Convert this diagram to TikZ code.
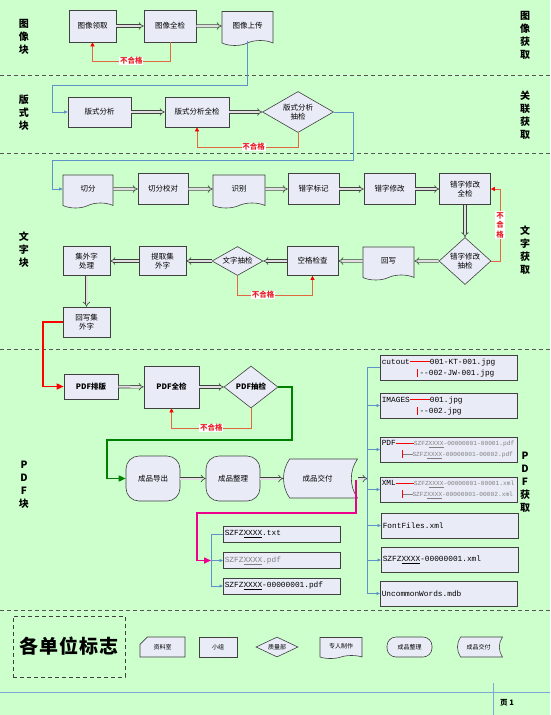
\documentclass[tikz,border=0pt]{standalone}
\usepackage{fontspec}
\setmainfont{Noto Sans CJK SC}
\setmonofont{Liberation Mono}
\usetikzlibrary{arrows.meta, shapes.geometric, shapes.misc, shapes.symbols, positioning}
\definecolor{colorBack}{HTML}{CCFFCC}
\definecolor{colorBox}{HTML}{E9ECF7}
\definecolor{colorEdge}{HTML}{404040}
\definecolor{colorLink}{HTML}{5E92C8}
\definecolor{colorFail}{HTML}{E0683E}
\definecolor{colorFailText}{HTML}{E82028}
\definecolor{colorLane}{HTML}{555555}
\newcommand{\fileX}{\underline{XXXX}}
\newcommand{\redrule}[1]{\textcolor{red}{\rule[2.4pt]{#1}{0.5pt}}}
\newcommand{\redbar}{\textcolor{red}{\rule[-1.5pt]{0.7pt}{8pt}}}
\newcommand{\smallgray}{\color{gray}\fontsize{6.2}{8}\selectfont}
\tikzset{
  box/.style={draw=colorEdge, fill=colorBox, semithick, align=center, inner sep=1pt, font=\fontsize{7.5}{9.5}\selectfont},
  doc/.style={box, tape, tape bend top=none, tape bend height=5pt},
  check/.style={box, diamond, aspect=1.5, inner sep=-2pt},
  term/.style={box, rounded corners=13pt},
  stored/.style={box, rounded rectangle, rounded rectangle arc length=70, rounded rectangle east arc=concave},
  card/.style={box, chamfered rectangle, chamfered rectangle corners=north west, chamfered rectangle xsep=6pt},
  filebox/.style={box, anchor=west, align=left, text width=#1, inner xsep=1.5pt, font=\ttfamily\fontsize{7.8}{11}\selectfont},
  lane/.style={font=\bfseries\fontsize{10}{13}\selectfont, align=center},
  small/.style={font=\fontsize{6}{7}\selectfont},
  bold/.style={font=\bfseries\fontsize{7.5}{9}\selectfont},
}
\begin{document}
\begin{tikzpicture}[x=1pt, y=-1pt,
  flow/.style={draw=colorEdge, double=black!12, double distance=2pt, line width=.6pt, -{Implies}},
  link/.style={draw=colorLink, semithick, -{Triangle[length=3.5pt, width=3pt]}},
  fail/.style={draw=colorFail, semithick, -{Triangle[length=4pt, width=4pt, color=red]}},
  failtag/.style={fill=white, text=colorFailText, align=center, font=\bfseries\fontsize{7.5}{9.5}\selectfont, inner sep=.8pt},
  mainline/.style={line width=1.5pt, -{Triangle[length=7pt, width=6pt]}}]
\fill[colorBack] (0,0) rectangle (550,715);
\useasboundingbox (0,0) rectangle (550,715);
\foreach \y in {75,153,349,610}
  \draw[colorLane, line width=1pt, dash pattern=on 4pt off 3pt] (0,\y) -- (550,\y);

\node[lane] (laneImg) at (24,37) {图\\像\\块};
\node[lane] (laneLay) at (24,113) {版\\式\\块};
\node[lane] (laneTxt) at (24,250) {文\\字\\块};
\node[lane] (lanePdf) at (24,485) {P\\D\\F\\块};
\node[lane] (getImg) at (525,35) {图\\像\\获\\取};
\node[lane] (getLay) at (525,115) {关\\联\\获\\取};
\node[lane] (getTxt) at (525,250) {文\\字\\获\\取};
\node[lane] (getPdf) at (525,482) {P\\D\\F\\获\\取};

\node[box, minimum width=47, minimum height=32] (grab) at (92.5,26) {图像领取};
\node[box, minimum width=52, minimum height=32] (imgfull) at (170,26) {图像全检};
\node[doc, minimum width=51, minimum height=34] (upload) at (247.5,26) {图像上传};
\draw[flow] (grab) -- (imgfull);
\draw[flow] (imgfull) -- (upload);
\draw[fail] (imgfull.south) |- (92.5,61) node[failtag, pos=.75] {不合格} -- (grab.south);

\node[box, minimum width=63, minimum height=30] (layout) at (99.5,112) {版式分析};
\node[box, minimum width=64, minimum height=30] (layoutfull) at (197,112) {版式分析全检};
\node[check, minimum width=71, minimum height=41] (layoutchk) at (298,112) {版式分析\\抽检};
\draw[link] (upload.south) -- (247.5,85) -| (52,112) -- (layout.west);
\draw[flow] (layout) -- (layoutfull);
\draw[flow] (layoutfull) -- (layoutchk);
\draw[fail] (layoutchk.south) |- (197,147) node[failtag, pos=.72] {不合格} -- (layoutfull.south);

\node[doc, minimum width=50, minimum height=33] (cut) at (88,189) {切分};
\node[box, minimum width=50, minimum height=31] (cutcheck) at (163,189) {切分校对};
\node[doc, minimum width=52, minimum height=33] (ocr) at (239,189) {识别};
\node[box, minimum width=51, minimum height=31] (mark) at (313.5,189) {错字标记};
\node[box, minimum width=51, minimum height=31] (fix) at (389.5,189) {错字修改};
\node[box, minimum width=51, minimum height=31] (fixfull) at (465,189) {错字修改\\全检};
\node[check, minimum width=52, minimum height=47] (fixchk) at (465,261) {错字修改\\抽检};
\node[doc, minimum width=51, minimum height=33] (rewrite) at (388.5,261) {回写};
\node[box, minimum width=51, minimum height=29] (space) at (312.5,261) {空格检查};
\node[check, minimum width=51, minimum height=29] (textchk) at (237.5,261) {文字抽检};
\node[box, minimum width=47, minimum height=29] (extract) at (162.5,261) {提取集\\外字};
\node[box, minimum width=47, minimum height=29] (rare) at (86.5,261) {集外字\\处理};
\node[box, minimum width=47, minimum height=30] (rarewrite) at (86.5,322) {回写集\\外字};
\draw[link] (layoutchk.east) -| (353,160) -| (52,189) -- (cut.west);
\draw[flow] (cut) -- (cutcheck);
\draw[flow] (cutcheck) -- (ocr);
\draw[flow] (ocr) -- (mark);
\draw[flow] (mark) -- (fix);
\draw[flow] (fix) -- (fixfull);
\draw[flow] (fixfull) -- (fixchk);
\draw[flow] (fixchk) -- (rewrite);
\draw[flow] (rewrite) -- (space);
\draw[flow] (space) -- (textchk);
\draw[flow] (textchk) -- (extract);
\draw[flow] (extract) -- (rare);
\draw[flow] (rare) -- (rarewrite);
\draw[fail] (fixchk.east) -| (500,189) node[failtag, pos=.75] {不\\合\\格} -- (fixfull.east);
\draw[fail] (textchk.south) |- (312.5,295) node[failtag, pos=.67] {不合格} -- (space.south);

\node[box, bold, minimum width=54, minimum height=25] (typeset) at (91,386.5) {PDF排版};
\node[box, bold, minimum width=55, minimum height=42] (pdffull) at (171.5,387) {PDF全检};
\node[check, bold, minimum width=54, minimum height=42] (pdfchk) at (251,387) {PDF抽检};
\draw[mainline, red] (rarewrite.west) -| (43,386.5) -- (typeset.west);
\draw[flow] (typeset) -- (pdffull);
\draw[flow] (pdffull) -- (pdfchk);
\draw[fail] (pdfchk.south) |- (171.5,428) node[failtag, pos=.75] {不合格} -- (pdffull.south);

\node[term, minimum width=54, minimum height=45] (export) at (153,478.5) {成品导出};
\node[term, minimum width=54, minimum height=45] (sort) at (233,478.5) {成品整理};
\node[stored, minimum width=61, minimum height=39] (deliver) at (317.5,478.5) {成品交付};
\coordinate (hub) at (367.5,478.5);
\coordinate (tap) at (356,480);
\coordinate (stem) at (211,560.5);
\draw[mainline, green!50!black] (pdfchk.east) -| (292,440) -| (107,478.5) -- (export.west);
\draw[flow] (export) -- (sort);
\draw[flow] (sort) -- (deliver);
\draw[flow] (deliver) -- (hub);

\node[filebox=134, minimum height=25] (fcut) at (380,367.5) {cutout\redrule{20pt}001-KT-001.jpg\\\hspace*{35pt}\redbar\hspace{2pt}--002-JW-001.jpg};
\node[filebox=134, minimum height=25] (fimg) at (380,405.5) {IMAGES\redrule{20pt}001.jpg\\\hspace*{35pt}\redbar\hspace{2pt}--002.jpg};
\node[filebox=134, minimum height=25] (fpdf) at (380,449.5) {PDF\redrule{18pt}{\smallgray SZFZ\fileX-00000001-00001.pdf}\\\hspace*{20pt}\redbar\textcolor{gray}{\rule[2.4pt]{10pt}{0.5pt}}{\smallgray SZFZ\fileX-00000001-00002.pdf}};
\node[filebox=134, minimum height=25] (fxml) at (380,489.5) {XML\redrule{18pt}{\smallgray SZFZ\fileX-00000001-00001.xml}\\\hspace*{20pt}\redbar\textcolor{gray}{\rule[2.4pt]{10pt}{0.5pt}}{\smallgray SZFZ\fileX-00000001-00002.xml}};
\node[filebox=134, minimum height=25] (ffont) at (381,525.5) {FontFiles.xml};
\node[filebox=134, minimum height=25] (fxmlone) at (381,560) {SZFZ\fileX-00000001.xml};
\node[filebox=134, minimum height=25] (fmdb) at (380,593.5) {UncommonWords.mdb};
\draw[colorLink, semithick] (fcut.west) -| (fmdb.west -| hub);
\foreach \f in {fimg,fpdf,fxml,ffont,fxmlone,fmdb}
  \draw[link] (\f.west -| hub) -- (\f.west);

\node[filebox=114, minimum height=16] (ftxt) at (223,534) {SZFZ\fileX.txt};
\node[filebox=114, minimum height=16, text=gray] (fpdfa) at (223,560.5) {SZFZ\fileX.pdf};
\node[filebox=114, minimum height=16] (fpdfb) at (223,586) {SZFZ\fileX-00000001.pdf};
\draw[colorLink, semithick] (ftxt.west) -| (fpdfb.west -| stem);
\foreach \f in {fpdfa,fpdfb}
  \draw[link] (\f.west -| stem) -- (\f.west);
\draw[mainline, magenta] (tap) |- (197,513) |- (stem);

\node[draw=colorEdge, thick, dash pattern=on 4pt off 3pt, minimum width=112, minimum height=61, font=\bfseries\fontsize{19}{22}\selectfont] (legend) at (69,646.5) {各\hspace{1pt}单\hspace{1pt}位\hspace{1pt}标\hspace{1pt}志};
\node[card, small, minimum width=45, minimum height=20] (keyroom) at (162.5,647) {资料室};
\node[box, small, minimum width=38, minimum height=20] (keygroup) at (218,647) {小组};
\node[check, small, minimum width=42, minimum height=20] (keyqa) at (277,647) {质量部};
\node[doc, small, tape bend height=3pt, minimum width=42, minimum height=21] (keyman) at (341,646.5) {专人制作};
\node[term, small, rounded corners=9pt, minimum width=45, minimum height=20] (keysort) at (409.5,647) {成品整理};
\node[stored, small, minimum width=47, minimum height=20] (keydeliver) at (478.5,647) {成品交付};

\draw[colorLink!80, semithick] (0,692) -- (550,692);
\draw[colorLink!80, semithick] (493,683) -- (493,715);
\node[font=\bfseries\fontsize{7.5}{9}\selectfont] (page) at (507,703) {页 1};
\end{tikzpicture}
\end{document}
